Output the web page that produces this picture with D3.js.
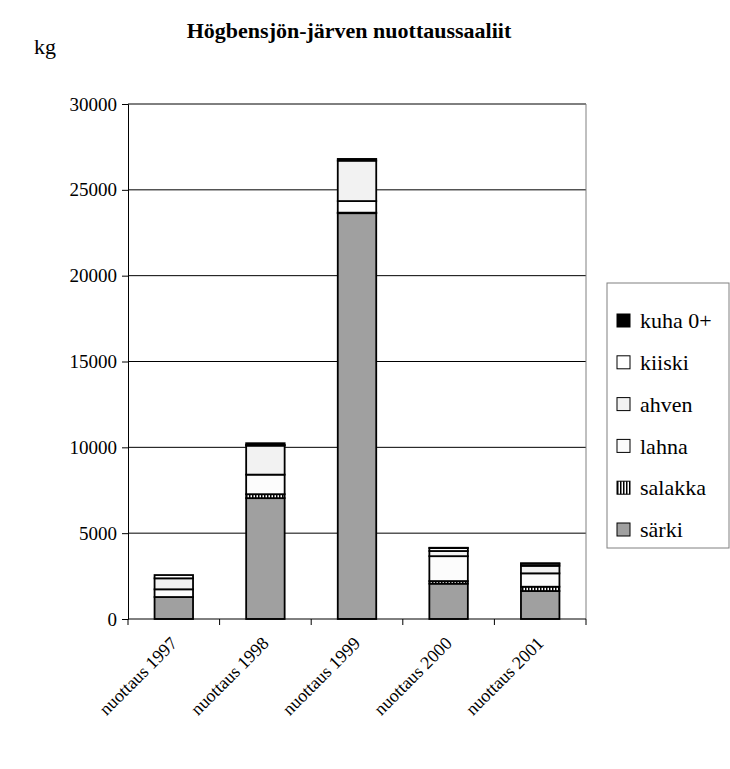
<!DOCTYPE html>
<html>
<head>
<meta charset="utf-8">
<script src="https://cdn.jsdelivr.net/npm/d3@7"></script>
<style>
  body { margin: 0; background: #fff; }
  svg text { font-family: "Liberation Serif", "Times New Roman", serif !important; fill: #000; }
</style>
</head>
<body>
<svg id="chart" width="730" height="769"></svg>
<script>
// Seine-net catches per haul year, kg
const categories = ["nuottaus 1997", "nuottaus 1998", "nuottaus 1999", "nuottaus 2000", "nuottaus 2001"];
const species = ["särki", "salakka", "lahna", "ahven", "kiiski", "kuha 0+"];
const sarki   = [1280, 7040, 23640, 2060, 1630];
const salakka = [0, 230, 30, 150, 250];
const lahna   = [450, 1140, 675, 1450, 780];
const ahven   = [640, 1690, 2355, 300, 440];
const kiiski  = [190, 40, 0, 170, 120];
const kuha    = [0, 100, 100, 20, 30];
const yTicks  = [0, 5000, 10000, 15000, 20000, 25000, 30000];

const seriesValues = [sarki, salakka, lahna, ahven, kiiski, kuha];
const fills = ["#a0a0a0", "url(#stripes)", "#fcfcfc", "#f2f2f2", "#ffffff", "#000000"];
const serif = "'Liberation Serif', 'Times New Roman', serif";

const rows = categories.map((c, i) => {
  const r = { cat: c };
  species.forEach((s, j) => r[s] = seriesValues[j][i]);
  return r;
});

const svg = d3.select("#chart");
const plot = { left: 128, right: 586, top: 104, bottom: 619 };

const defs = svg.append("defs");
const pat = defs.append("pattern").attr("id", "stripes")
  .attr("patternUnits", "userSpaceOnUse").attr("width", 3).attr("height", 3);
pat.append("rect").attr("width", 3).attr("height", 3).attr("fill", "#fff");
pat.append("rect").attr("width", 1.5).attr("height", 3).attr("fill", "#000");

const x = d3.scaleBand().domain(categories).range([plot.left, plot.right]).paddingInner(0.58).paddingOuter(0.29);
const y = d3.scaleLinear().domain([0, 30000]).range([plot.bottom, plot.top]);

// Title and unit
svg.append("text").attr("x", 349).attr("y", 38).attr("text-anchor", "middle")
  .attr("font-weight", "bold").attr("font-size", 22).style("font-family", serif)
  .text("Högbensjön-järven nuottaussaaliit");
svg.append("text").attr("x", 34).attr("y", 54).attr("font-size", 22).style("font-family", serif).text("kg");

// Gridlines
svg.append("g").selectAll("line").data(yTicks.filter(d => d > 0)).join("line")
  .attr("x1", plot.left).attr("x2", plot.right)
  .attr("y1", d => y(d)).attr("y2", d => y(d))
  .attr("stroke", "#000").attr("stroke-width", 1);

// Right border of plot area
svg.append("line").attr("x1", plot.right).attr("x2", plot.right)
  .attr("y1", plot.top).attr("y2", plot.bottom)
  .attr("stroke", "#808080").attr("stroke-width", 1);

// Stacked bars
const stack = d3.stack().keys(species)(rows);
svg.append("g").selectAll("g").data(stack).join("g")
  .attr("fill", (d, i) => fills[i])
  .selectAll("rect").data(d => d).join("rect")
  .attr("x", d => x(d.data.cat))
  .attr("width", x.bandwidth())
  .attr("y", d => y(d[1]))
  .attr("height", d => y(d[0]) - y(d[1]))
  .attr("stroke", "#000").attr("stroke-width", 1.8);

// Y axis
const yAxis = svg.append("g").attr("transform", `translate(${plot.left},0)`)
  .call(d3.axisLeft(y).tickValues(yTicks).tickFormat(d3.format("d")).tickSize(6).tickPadding(5));
yAxis.attr("font-family", serif);
yAxis.select(".domain").attr("stroke", "#000");
yAxis.selectAll("text").attr("font-size", 19).style("font-family", serif);

// X axis with ticks between categories
svg.append("line").attr("x1", plot.left).attr("x2", plot.right)
  .attr("y1", plot.bottom).attr("y2", plot.bottom).attr("stroke", "#000");
const bounds = d3.range(categories.length + 1).map(i => plot.left + i * (plot.right - plot.left) / categories.length);
svg.append("g").selectAll("line").data(bounds).join("line")
  .attr("x1", d => d).attr("x2", d => d)
  .attr("y1", plot.bottom).attr("y2", plot.bottom + 6).attr("stroke", "#000");

svg.append("g").selectAll("text").data(categories).join("text")
  .attr("transform", d => `translate(${x(d) + x.bandwidth() / 2},${plot.bottom + 21}) rotate(-45)`)
  .attr("text-anchor", "end").attr("font-size", 18).attr("dy", "0.35em")
  .style("font-family", serif)
  .text(d => d);

// Legend
const lg = svg.append("g");
lg.append("rect").attr("x", 607).attr("y", 283).attr("width", 122).attr("height", 265)
  .attr("fill", "#fff").attr("stroke", "#808080");
const legendOrder = species.map((s, i) => ({ s, f: fills[i] })).reverse();
const ly = d3.scalePoint().domain(legendOrder.map(d => d.s)).range([321, 530]);
const items = lg.selectAll("g").data(legendOrder).join("g")
  .attr("transform", d => `translate(617,${ly(d.s)})`);
items.append("rect").attr("x", 0).attr("y", -7).attr("width", 13).attr("height", 13)
  .attr("fill", d => d.f).attr("stroke", "#000").attr("stroke-width", 1);
items.append("text").attr("x", 23).attr("dy", "0.33em").attr("font-size", 22)
  .style("font-family", serif).text(d => d.s);
</script>
</body>
</html>
